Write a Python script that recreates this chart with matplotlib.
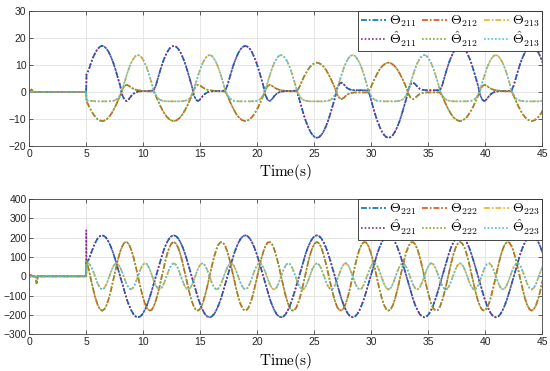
import numpy as np
import matplotlib.pyplot as plt
from matplotlib import rc

rc('mathtext', fontset='cm')
rc('font', family='Liberation Sans', size=7.5)

# ---- sample times (s) ----
t_pre_top = [0.0, 0.1, 0.2, 0.3, 0.45, 4.99]
t_pre_bot = [0.0, 0.1, 0.2, 0.3, 0.55, 0.62, 0.68, 0.75, 4.99]
t_run = np.linspace(5.02, 45.07, 205)

# ---- top panel: Theta_21x ----
th211_pre = [0, 0, 0, 0, 0, 0]
th212_pre = [0, 0.6, 0.9, 0.3, 0, 0]
th213_pre = [0, 0, 0, 0, 0, 0]

th211 = [
    6.5, 8.1, 10.7, 12.8, 14.6, 15.9, 16.7, 17.0, 16.7, 15.9, 14.6, 12.8, 10.7, 8.1, 5.3, 2.4,
    -1.2, -3.0, -3.4, -2.6, -1.5, -0.7, -0.2, 0.1, 0.2, 0.3, 0.3, 0.3, 0.4, 0.4, 0.5,
    2.4, 5.3, 8.1, 10.7, 12.8, 14.6, 15.9, 16.7, 17.0, 16.7, 15.9, 14.6, 12.8, 10.7, 8.1, 5.3, 2.4,
    -1.2, -3.0, -3.4, -2.6, -1.5, -0.7, -0.2, 0.1, 0.2, 0.3, 0.3, 0.3, 0.4, 0.4, 0.5,
    2.4, 5.3, 8.1, 10.7, 12.8, 14.6, 15.9, 16.7, 17.0, 16.7, 15.9, 14.6, 12.8, 10.7, 8.1, 5.3, 2.4,
    -1.2, -3.0, -3.4, -2.6, -1.5, -0.7, -0.2, 0.1, 0.2, 0.3, 0.3, 0.3, 0.4, 0.4, 0.5,
    -2.4, -5.3, -8.1, -10.7, -12.8, -14.6, -15.9, -16.7, -17.0, -16.7, -15.9, -14.6, -12.8, -10.7, -8.1, -5.3, -2.4,
    1.2, 3.0, 3.4, 2.8, 1.8, 1.1, 0.8, 0.7, 0.6, 0.6, 0.6, 0.6, 0.6, 0.6, 0.6,
    -2.4, -5.3, -8.1, -10.7, -12.8, -14.6, -15.9, -16.7, -17.0, -16.7, -15.9, -14.6, -12.8, -10.7, -8.1, -5.3, -2.4,
    1.2, 3.0, 3.4, 2.8, 1.8, 1.1, 0.8, 0.7, 0.6, 0.6, 0.6, 0.6, 0.6, 0.6, 0.6,
    2.4, 5.3, 8.1, 10.7, 12.8, 14.6, 15.9, 16.7, 17.0, 16.7, 15.9, 14.6, 12.8, 10.7, 8.1, 5.3, 2.4,
    -1.2, -3.0, -3.4, -2.6, -1.5, -0.7, -0.2, 0.1, 0.2, 0.3, 0.3, 0.3, 0.4, 0.4, 0.5,
    2.4, 5.3, 8.1, 10.7, 12.8, 14.6, 15.9, 16.7, 17.0, 16.7, 15.9, 14.6, 12.8, 10.7,
]
th212 = [
    -3.4, -5.2, -6.8, -8.2, -9.3, -10.1, -10.6, -10.8, -10.6, -10.1, -9.3, -8.2, -6.8, -5.2, -3.4, -1.5,
    0.9, 2.2, 2.6, 2.2, 1.6, 1.1, 0.8, 0.6, 0.5, 0.4, 0.3, 0.2, 0.2, 0.2, 0.2,
    -1.5, -3.4, -5.2, -6.8, -8.2, -9.3, -10.1, -10.6, -10.8, -10.6, -10.1, -9.3, -8.2, -6.8, -5.2, -3.4, -1.5,
    0.9, 2.2, 2.6, 2.2, 1.6, 1.1, 0.8, 0.6, 0.5, 0.4, 0.3, 0.2, 0.2, 0.2, 0.2,
    -1.5, -3.4, -5.2, -6.8, -8.2, -9.3, -10.1, -10.6, -10.8, -10.6, -10.1, -9.3, -8.2, -6.8, -5.2, -3.4, -1.5,
    0.9, 2.2, 2.6, 2.2, 1.6, 1.1, 0.8, 0.6, 0.5, 0.4, 0.3, 0.2, 0.2, 0.2, 0.2,
    1.5, 3.4, 5.2, 6.8, 8.2, 9.3, 10.1, 10.6, 10.8, 10.6, 10.1, 9.3, 8.2, 6.8, 5.2, 3.4, 1.5,
    -0.9, -2.2, -2.7, -2.2, -1.4, -0.8, -0.5, -0.3, -0.2, -0.2, -0.2, -0.2, -0.2, -0.2, -0.2,
    1.5, 3.4, 5.2, 6.8, 8.2, 9.3, 10.1, 10.6, 10.8, 10.6, 10.1, 9.3, 8.2, 6.8, 5.2, 3.4, 1.5,
    -0.9, -2.2, -2.7, -2.2, -1.4, -0.8, -0.5, -0.3, -0.2, -0.2, -0.2, -0.2, -0.2, -0.2, -0.2,
    -1.5, -3.4, -5.2, -6.8, -8.2, -9.3, -10.1, -10.6, -10.8, -10.6, -10.1, -9.3, -8.2, -6.8, -5.2, -3.4, -1.5,
    0.9, 2.2, 2.6, 2.2, 1.6, 1.1, 0.8, 0.6, 0.5, 0.4, 0.3, 0.2, 0.2, 0.2, 0.2,
    -1.5, -3.4, -5.2, -6.8, -8.2, -9.3, -10.1, -10.6, -10.8, -10.6, -10.1, -9.3, -8.2, -6.8,
]
th213 = [
    -3.2, -3.3, -3.3, -3.4, -3.5, -3.5, -3.5, -3.5, -3.5, -3.5, -3.5, -3.4, -3.3, -3.0, -2.4, -1.2,
    0.6, 3.6, 6.3, 8.8, 10.8, 12.3, 13.3, 13.6, 13.3, 12.3, 10.8, 8.8, 6.3, 3.6, 0.6,
    -1.2, -2.4, -3.0, -3.3, -3.4, -3.5, -3.5, -3.5, -3.5, -3.5, -3.5, -3.5, -3.4, -3.3, -3.0, -2.4, -1.2,
    0.6, 3.6, 6.3, 8.8, 10.8, 12.3, 13.3, 13.6, 13.3, 12.3, 10.8, 8.8, 6.3, 3.6, 0.6,
    -1.2, -2.4, -3.0, -3.3, -3.4, -3.5, -3.5, -3.5, -3.5, -3.5, -3.5, -3.5, -3.4, -3.3, -3.0, -2.4, -1.2,
    0.6, 3.6, 6.3, 8.8, 10.8, 12.3, 13.3, 13.6, 13.3, 12.3, 10.8, 8.8, 6.3, 3.6, 0.6,
    -1.2, -2.4, -3.0, -3.3, -3.4, -3.5, -3.5, -3.5, -3.5, -3.5, -3.5, -3.5, -3.4, -3.3, -3.0, -2.4, -1.2,
    0.6, 3.6, 6.3, 8.8, 10.8, 12.3, 13.3, 13.6, 13.3, 12.3, 10.8, 8.8, 6.3, 3.6, 0.6,
    -1.2, -2.4, -3.0, -3.3, -3.4, -3.5, -3.5, -3.5, -3.5, -3.5, -3.5, -3.5, -3.4, -3.3, -3.0, -2.4, -1.2,
    0.6, 3.6, 6.3, 8.8, 10.8, 12.3, 13.3, 13.6, 13.3, 12.3, 10.8, 8.8, 6.3, 3.6, 0.6,
    -1.2, -2.4, -3.0, -3.3, -3.4, -3.5, -3.5, -3.5, -3.5, -3.5, -3.5, -3.5, -3.4, -3.3, -3.0, -2.4, -1.2,
    0.6, 3.6, 6.3, 8.8, 10.8, 12.3, 13.3, 13.6, 13.3, 12.3, 10.8, 8.8, 6.3, 3.6, 0.6,
    -1.2, -2.4, -3.0, -3.3, -3.4, -3.5, -3.5, -3.5, -3.5, -3.5, -3.5, -3.5, -3.4, -3.3,
]

# ---- bottom panel: Theta_22x ----
th221_pre = [0, 0, 0, 0, 0, 0, 0, 0, 0]
th222_pre = [0, 8, 5, 0, 0, -36, -30, 0, 0]
th223_pre = [0, 0, 0, 0, 0, 0, 0, 0, 0]
th221_hat_jump = 238   # estimate overshoot at t = 5 s

th221 = [
    68, 88, 118, 150, 176, 196, 208,
    212, 208, 196, 176, 150, 118, 81, 41, 0, -41, -81, -118, -150, -176, -196, -208,
    -212, -208, -196, -176, -150, -118, -81, -41, 0, 41, 81, 118, 150, 176, 196, 208,
    212, 208, 196, 176, 150, 118, 81, 41, 0, -41, -81, -118, -150, -176, -196, -208,
    -212, -208, -196, -176, -150, -118, -81, -41, 0, 41, 81, 118, 150, 176, 196, 208,
    212, 208, 196, 176, 150, 118, 81, 41, 0, -41, -81, -118, -150, -176, -196, -208,
    -212, -208, -196, -176, -150, -118, -81, -41, 0, 41, 81, 118, 150, 176, 196, 208,
    212, 208, 196, 176, 150, 118, 81, 41, 0, -41, -81, -118, -150, -176, -196, -208,
    -212, -208, -196, -176, -150, -118, -81, -41, 0, 41, 81, 118, 150, 176, 196, 208,
    212, 208, 196, 176, 150, 118, 81, 41, 0, -41, -81, -118, -150, -176, -196, -208,
    -212, -208, -196, -176, -150, -118, -81, -41, 0, 41, 81, 118, 150, 176, 196, 208,
    212, 208, 196, 176, 150, 118, 81, 41, 0, -41, -81, -118, -150, -176, -196, -208,
    -212, -208, -196, -176, -150, -118, -81, -41, 0, 41, 81, 118, 150, 176, 196, 208,
    212, 208, 196, 176, 150, 118,
]
th222 = [
    84, 35, -17, -68, -113, -148, -170,
    -178, -170, -148, -113, -68, -17, 35, 84, 126, 157, 175, 177, 165, 138, 99, 52,
    0, -52, -99, -138, -165, -177, -175, -157, -126, -84, -35, 17, 68, 113, 148, 170,
    178, 170, 148, 113, 68, 17, -35, -84, -126, -157, -175, -177, -165, -138, -99, -52,
    0, 52, 99, 138, 165, 177, 175, 157, 126, 84, 35, -17, -68, -113, -148, -170,
    -178, -170, -148, -113, -68, -17, 35, 84, 126, 157, 175, 177, 165, 138, 99, 52,
    0, -52, -99, -138, -165, -177, -175, -157, -126, -84, -35, 17, 68, 113, 148, 170,
    178, 170, 148, 113, 68, 17, -35, -84, -126, -157, -175, -177, -165, -138, -99, -52,
    0, 52, 99, 138, 165, 177, 175, 157, 126, 84, 35, -17, -68, -113, -148, -170,
    -178, -170, -148, -113, -68, -17, 35, 84, 126, 157, 175, 177, 165, 138, 99, 52,
    0, -52, -99, -138, -165, -177, -175, -157, -126, -84, -35, 17, 68, 113, 148, 170,
    178, 170, 148, 113, 68, 17, -35, -84, -126, -157, -175, -177, -165, -138, -99, -52,
    0, 52, 99, 138, 165, 177, 175, 157, 126, 84, 35, -17, -68, -113, -148, -170,
    -178, -170, -148, -113, -68, -17,
]
th223 = [
    65, 67, 53, 26, -7, -38, -60,
    -68, -60, -38, -7, 26, 53, 67, 65, 48, 20, -13, -43, -63, -68, -57, -32,
    0, 32, 57, 68, 63, 43, 13, -20, -48, -65, -67, -53, -26, 7, 38, 60,
    68, 60, 38, 7, -26, -53, -67, -65, -48, -20, 13, 43, 63, 68, 57, 32,
    0, -32, -57, -68, -63, -43, -13, 20, 48, 65, 67, 53, 26, -7, -38, -60,
    -68, -60, -38, -7, 26, 53, 67, 65, 48, 20, -13, -43, -63, -68, -57, -32,
    0, 32, 57, 68, 63, 43, 13, -20, -48, -65, -67, -53, -26, 7, 38, 60,
    68, 60, 38, 7, -26, -53, -67, -65, -48, -20, 13, 43, 63, 68, 57, 32,
    0, -32, -57, -68, -63, -43, -13, 20, 48, 65, 67, 53, 26, -7, -38, -60,
    -68, -60, -38, -7, 26, 53, 67, 65, 48, 20, -13, -43, -63, -68, -57, -32,
    0, 32, 57, 68, 63, 43, 13, -20, -48, -65, -67, -53, -26, 7, 38, 60,
    68, 60, 38, 7, -26, -53, -67, -65, -48, -20, 13, 43, 63, 68, 57, 32,
    0, -32, -57, -68, -63, -43, -13, 20, 48, 65, 67, 53, 26, -7, -38, -60,
    -68, -60, -38, -7, 26, 53,
]

x_ticks = [0, 5, 10, 15, 20, 25, 30, 35, 40, 45]
top_yticks = [-20, -10, 0, 10, 20, 30]
bot_yticks = [-300, -200, -100, 0, 100, 200, 300, 400]

true_colors = ['#0072BD', '#D95319', '#EDB120']
est_colors = ['#7E2F8E', '#77AC30', '#4DBEEE']


def draw_panel(ax, t_true, true_series, t_est, est_series, idx, ylim, yticks):
    handles = []
    for k in range(3):
        h1, = ax.plot(t_true, true_series[k], color=true_colors[k], lw=1.2,
                      dashes=(3.5, 1.2, 1, 1.2), label=r'$\Theta_{%s}$' % idx[k])
        handles.append(h1)
    for k in range(3):
        h2, = ax.plot(t_est[k], est_series[k], color=est_colors[k], lw=1.2,
                      dashes=(1, 1.2), label=r'$\hat{\Theta}_{%s}$' % idx[k])
        handles.append(h2)
    order = [0, 3, 1, 4, 2, 5]
    ax.legend([handles[i] for i in order], [handles[i].get_label() for i in order],
              loc='upper right', ncol=3, fontsize=10, borderaxespad=0, handlelength=1.8,
              handletextpad=0.2, columnspacing=0.45, labelspacing=0.05, borderpad=0.2,
              fancybox=False, framealpha=1, edgecolor='#262626')
    ax.get_legend().get_frame().set_linewidth(0.6)
    ax.set_xlim(0, 45)
    ax.set_ylim(*ylim)
    ax.set_xticks(x_ticks)
    ax.set_yticks(yticks)
    ax.grid(True, color='#e2e2e2', lw=0.6)
    ax.set_axisbelow(True)
    ax.tick_params(direction='in', length=3, width=0.5, top=True, right=True, pad=2,
                   colors='#262626', labelsize=7.5)
    for s in ax.spines.values():
        s.set_color('#404040')
        s.set_linewidth(0.6)
    ax.set_xlabel(r'$\mathrm{Time(s)}$', fontsize=11, labelpad=2.5)


fig = plt.figure(figsize=(5.5, 3.71), dpi=100)
ax1 = fig.add_axes([0.0533, 0.6065, 0.9322, 0.3647])
ax2 = fig.add_axes([0.0533, 0.0989, 0.9322, 0.3647])

t_top = list(t_pre_top) + list(t_run)
top_true = [th211_pre + th211, th212_pre + th212, th213_pre + th213]
draw_panel(ax1, t_top, top_true, [t_top, t_top, t_top], top_true,
           ['211', '212', '213'], (-20, 30), top_yticks)

t_bot = list(t_pre_bot) + list(t_run)
t_bot_jump = list(t_pre_bot) + [5.0] + list(t_run)
bot_true = [th221_pre + th221, th222_pre + th222, th223_pre + th223]
bot_est = [th221_pre + [th221_hat_jump] + th221, bot_true[1], bot_true[2]]
draw_panel(ax2, t_bot, bot_true, [t_bot_jump, t_bot, t_bot], bot_est,
           ['221', '222', '223'], (-300, 400), bot_yticks)

fig.savefig('out.png', dpi=100)
